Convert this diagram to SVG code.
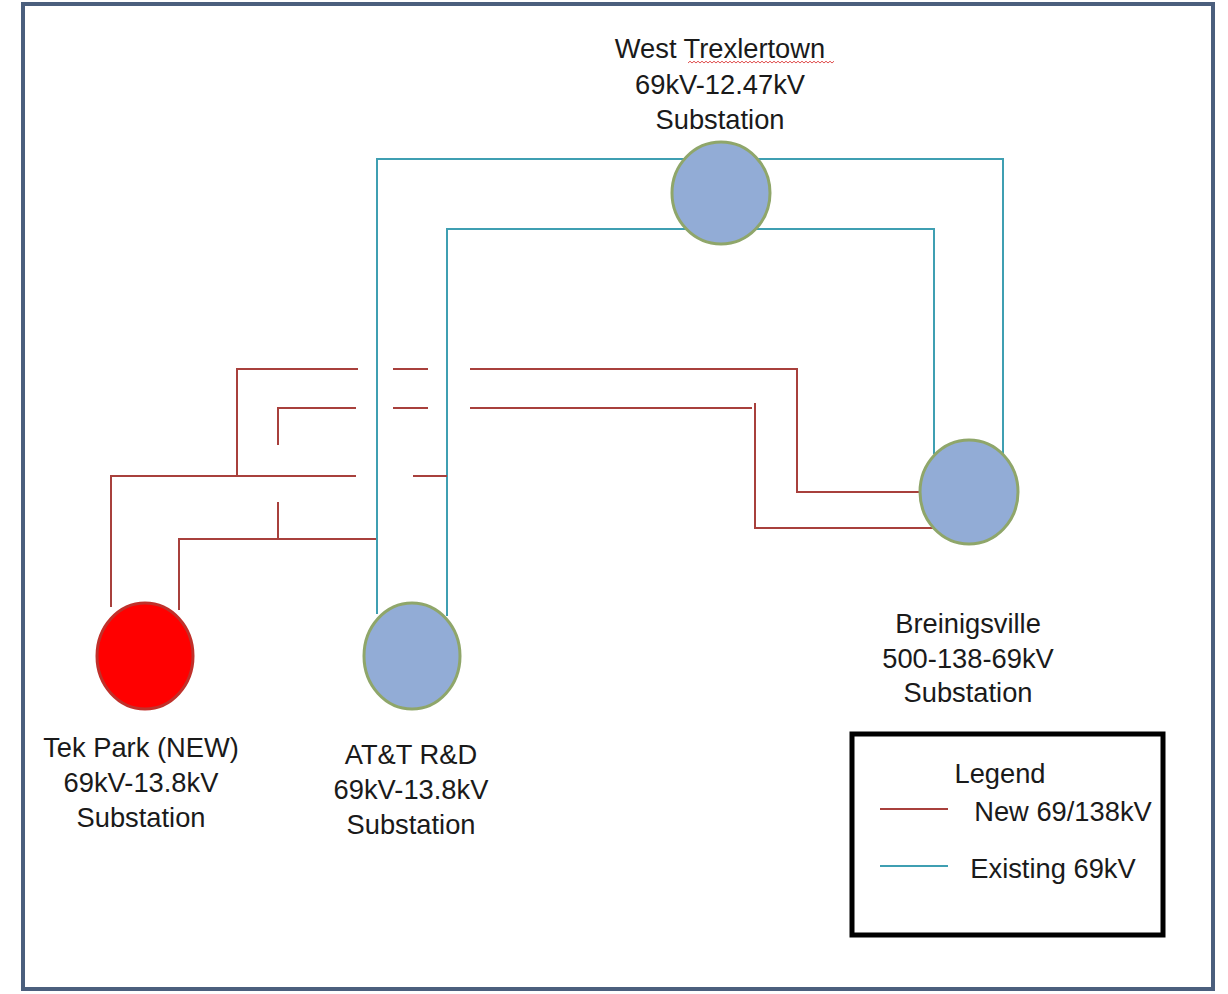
<svg xmlns="http://www.w3.org/2000/svg" width="1228" height="994" viewBox="0 0 1228 994">
<style>
.txt{font-family:"Liberation Sans",Arial,sans-serif;font-size:27.3px;fill:#1a1a1a;text-anchor:middle}
.red{fill:none;stroke:#a8403c;stroke-width:2}
.cyan{fill:none;stroke:#3f9fb2;stroke-width:2}
.sub{fill:#92acd6;stroke:#8fa66a;stroke-width:3}
.new{fill:#ff0000;stroke:#c0302a;stroke-width:3}
</style>
<rect x="0" y="0" width="1228" height="994" fill="#ffffff"/>
<rect id="frame" x="23" y="4" width="1190" height="985" fill="none" stroke="#4b5f7d" stroke-width="4"/>
<g id="connectors">
  <polyline class="cyan" points="377,614 377,159 1003,159 1003,455"/>
  <polyline class="cyan" points="447,616 447,229 934,229 934,454"/>
  <polyline class="red" points="237,476 237,369 358,369"/>
  <line class="red" x1="393" y1="369" x2="428" y2="369"/>
  <polyline class="red" points="470,369 797,369 797,492 922,492"/>
  <polyline class="red" points="278,445 278,408 356,408"/>
  <line class="red" x1="393" y1="408" x2="428" y2="408"/>
  <line class="red" x1="470" y1="408" x2="752" y2="408"/>
  <polyline class="red" points="755,403 755,528 935,528"/>
  <polyline class="red" points="111,607 111,476 356,476"/>
  <line class="red" x1="413" y1="476" x2="447" y2="476"/>
  <line class="red" x1="278" y1="502" x2="278" y2="539"/>
  <polyline class="red" points="179,610 179,539 376,539"/>
</g>
<g id="west-trexlertown">
  <ellipse class="sub" cx="721" cy="193" rx="49" ry="51"/>
  <text class="txt" x="720" y="58">West Trexlertown</text>
  <path d="M688,63 l2,-1.8 l2,1.8 l2,-1.8 l2,1.8 l2,-1.8 l2,1.8 l2,-1.8 l2,1.8 l2,-1.8 l2,1.8 l2,-1.8 l2,1.8 l2,-1.8 l2,1.8 l2,-1.8 l2,1.8 l2,-1.8 l2,1.8 l2,-1.8 l2,1.8 l2,-1.8 l2,1.8 l2,-1.8 l2,1.8 l2,-1.8 l2,1.8 l2,-1.8 l2,1.8 l2,-1.8 l2,1.8 l2,-1.8 l2,1.8 l2,-1.8 l2,1.8 l2,-1.8 l2,1.8 l2,-1.8 l2,1.8 l2,-1.8 l2,1.8 l2,-1.8 l2,1.8 l2,-1.8 l2,1.8 l2,-1.8 l2,1.8 l2,-1.8 l2,1.8 l2,-1.8 l2,1.8 l2,-1.8 l2,1.8 l2,-1.8 l2,1.8 l2,-1.8 l2,1.8 l2,-1.8 l2,1.8 l2,-1.8 l2,1.8 l2,-1.8 l2,1.8 l2,-1.8 l2,1.8 l2,-1.8 l2,1.8 l2,-1.8 l2,1.8 l2,-1.8 l2,1.8 l2,-1.8 l2,1.8 l2,-1.8" fill="none" stroke="#e05050" stroke-width="1"/>
  <text class="txt" x="720" y="94">69kV-12.47kV</text>
  <text class="txt" x="720" y="129">Substation</text>
</g>
<g id="breinigsville">
  <ellipse class="sub" cx="969" cy="492" rx="49" ry="52"/>
  <text class="txt" x="968" y="633">Breinigsville</text>
  <text class="txt" x="968" y="668">500-138-69kV</text>
  <text class="txt" x="968" y="702">Substation</text>
</g>
<g id="tek-park">
  <ellipse class="new" cx="145" cy="656" rx="48" ry="53"/>
  <text class="txt" x="141" y="757">Tek Park (NEW)</text>
  <text class="txt" x="141" y="792">69kV-13.8kV</text>
  <text class="txt" x="141" y="827">Substation</text>
</g>
<g id="att-rd">
  <ellipse class="sub" cx="412" cy="656" rx="48" ry="53"/>
  <text class="txt" x="411" y="764">AT&amp;T R&amp;D</text>
  <text class="txt" x="411" y="799">69kV-13.8kV</text>
  <text class="txt" x="411" y="834">Substation</text>
</g>
<g id="legend">
  <rect x="852" y="734" width="311" height="201" fill="#ffffff" stroke="#000000" stroke-width="5"/>
  <text class="txt" x="1000" y="783">Legend</text>
  <line class="red" x1="880" y1="809" x2="948" y2="809"/>
  <text class="txt" x="1063" y="821">New 69/138kV</text>
  <line class="cyan" x1="880" y1="866" x2="948" y2="866"/>
  <text class="txt" x="1053" y="878">Existing 69kV</text>
</g>
</svg>
